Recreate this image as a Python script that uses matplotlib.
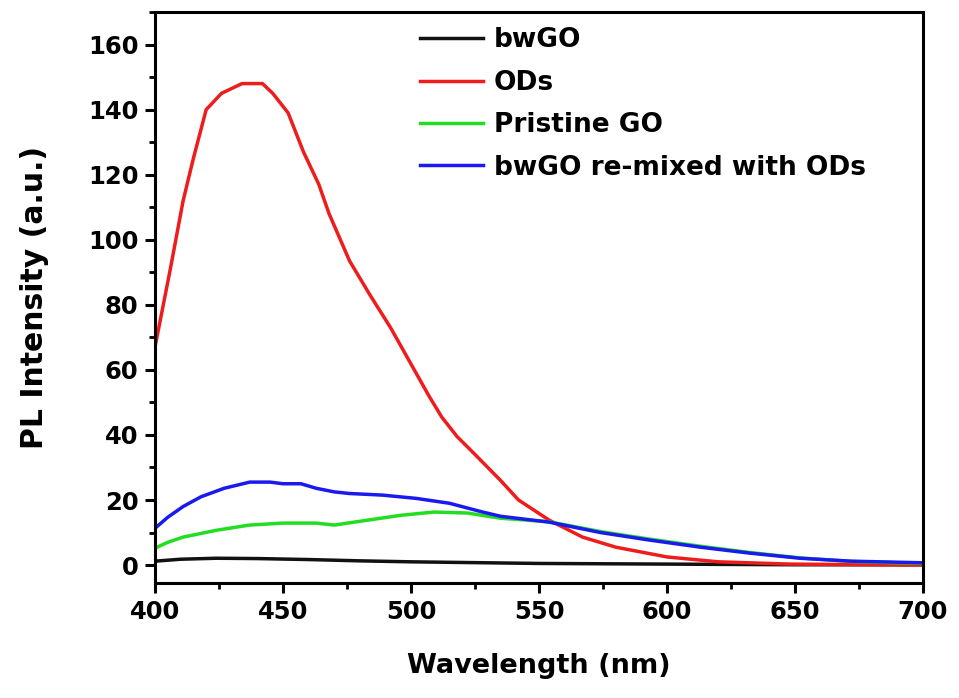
import matplotlib
matplotlib.use('Agg')
from matplotlib import pyplot as plt
from matplotlib.ticker import MultipleLocator

# ----------------------------------------------------------------------------
# PL spectra (wavelength in nm, intensity in a.u.)
wl_bwgo = [400, 410, 424, 440, 460, 480, 500, 520, 550, 600, 650, 700]
pl_bwgo = [1.2, 1.8, 2.1, 2.0, 1.7, 1.3, 1.0, 0.8, 0.5, 0.3, 0.1, 0.1]

wl_ods = [400, 406, 411, 415, 420, 426, 434, 442, 446, 452, 458, 464, 468,
          476, 484, 492, 502, 507, 512, 518, 525, 530, 535, 542, 554, 567,
          580, 600, 620, 648, 700]
pl_ods = [67, 91, 112, 125, 140, 145, 148, 148, 145, 139, 127, 117, 108,
          93.5, 83, 73, 59, 52, 45.5, 39.5, 34, 30, 26, 20, 13.8, 8.6,
          5.5, 2.5, 1.0, 0.3, 0.0]

wl_go = [400, 405, 411, 424, 437, 450, 463, 470, 483, 496, 509, 522, 535,
         554, 574, 593, 613, 632, 652, 672, 700]
pl_go = [5.2, 7.0, 8.6, 10.7, 12.3, 12.9, 12.9, 12.3, 13.8, 15.3, 16.3, 16.0,
         14.4, 13.3, 10.3, 8.0, 5.8, 3.9, 2.2, 1.1, 0.5]

wl_mix = [400, 405, 411, 418, 427, 437, 445, 450, 457, 463, 470, 476, 489,
          502, 515, 528, 535, 554, 574, 593, 613, 632, 652, 672, 700]
pl_mix = [11.3, 14.7, 18.0, 21.0, 23.6, 25.5, 25.5, 25.0, 25.0, 23.6, 22.5,
          22.0, 21.5, 20.5, 19.0, 16.3, 15.0, 13.2, 10.0, 7.7, 5.5, 3.7,
          2.1, 1.2, 0.7]

labels = ['bwGO', 'ODs', 'Pristine GO', 'bwGO re-mixed with ODs']
colors = ['#111111', '#ee1c1c', '#22dd22', '#1a1aee']
# ----------------------------------------------------------------------------

plt.rcParams['font.family'] = 'DejaVu Sans'
plt.rcParams['font.weight'] = 'bold'

fig = plt.figure(figsize=(9.59, 6.98), dpi=100)
ax = fig.add_axes([0.1616, 0.1648, 0.8009, 0.818])

series = [(wl_bwgo, pl_bwgo), (wl_ods, pl_ods), (wl_go, pl_go), (wl_mix, pl_mix)]
for (x, y), lab, col in zip(series, labels, colors):
    ax.plot(x, y, color=col, lw=2.5, label=lab)

ax.set_xlim(400, 700)
ax.set_ylim(-5.5, 170)
ax.xaxis.set_major_locator(MultipleLocator(50))
ax.xaxis.set_minor_locator(MultipleLocator(25))
ax.yaxis.set_major_locator(MultipleLocator(20))
ax.yaxis.set_minor_locator(MultipleLocator(10))

for sp in ax.spines.values():
    sp.set_linewidth(2.2)
ax.tick_params(which='major', direction='out', length=7, width=2.2,
               labelsize=17.5, top=False, right=False, pad=5)
ax.tick_params(which='minor', direction='out', length=4.5, width=2.0,
               top=False, right=False)

ax.set_xlabel('Wavelength (nm)', fontsize=19.5, fontweight='bold', labelpad=21)
ax.set_ylabel('PL Intensity (a.u.)', fontsize=21.5, fontweight='bold', labelpad=28)

ax.legend(loc='upper left', bbox_to_anchor=(0.345, 0.973), frameon=False,
          fontsize=19, handlelength=2.4, handletextpad=0.4, labelspacing=0.62,
          borderpad=0, borderaxespad=0)

plt.savefig('out.png', dpi=100)
